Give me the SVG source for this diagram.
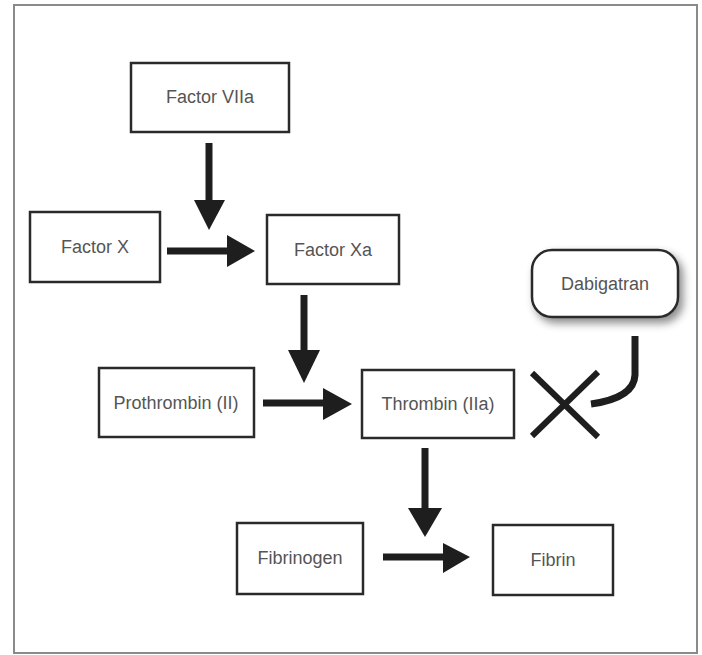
<svg xmlns="http://www.w3.org/2000/svg" width="702" height="655" viewBox="0 0 702 655">
<defs>
<style>
.box{fill:#fff;stroke:#2a2a2a;stroke-width:2.5}
.lbl{font-family:"Liberation Sans",Arial,sans-serif;font-size:18px;fill:#555;text-anchor:middle}
.shaft{stroke:#1e1e1e;stroke-width:7;fill:none}
.head{fill:#1e1e1e}
</style>
<filter id="sh" x="-20%" y="-20%" width="150%" height="160%">
<feDropShadow dx="4" dy="5" stdDeviation="4" flood-color="#000" flood-opacity="0.45"/>
</filter>
</defs>
<rect width="702" height="655" fill="#fff"/>
<rect x="14" y="5" width="683" height="648" fill="none" stroke="#8a8a8a" stroke-width="2"/>

<g id="connectors">
<line class="shaft" x1="209" y1="143" x2="209" y2="202"/>
<polygon class="head" points="194,200 225,200 209,230"/>
<line class="shaft" x1="167" y1="251" x2="230" y2="251"/>
<polygon class="head" points="227,235 255,251 227,267"/>
<line class="shaft" x1="304" y1="295" x2="304" y2="352"/>
<polygon class="head" points="288,350 320,350 304,383"/>
<line class="shaft" x1="263" y1="403" x2="325" y2="403"/>
<polygon class="head" points="323,388 352,404 323,420"/>
<line class="shaft" x1="425" y1="448" x2="425" y2="510"/>
<polygon class="head" points="408,508 442,508 425,537"/>
<line class="shaft" x1="383" y1="557" x2="445" y2="557"/>
<polygon class="head" points="443,543 470,557 443,573"/>
<path d="M635,336 L635,375 Q634,398 591,404" stroke="#1e1e1e" stroke-width="7" fill="none"/>
<line x1="532" y1="373" x2="598" y2="437" stroke="#1e1e1e" stroke-width="6"/>
<line x1="532" y1="436" x2="598" y2="372" stroke="#1e1e1e" stroke-width="6"/>
</g>

<g id="factor-viia"><rect class="box" x="131" y="63" width="158" height="69"/><text class="lbl" x="210" y="103">Factor VIIa</text></g>
<g id="factor-x"><rect class="box" x="30" y="212" width="130" height="70"/><text class="lbl" x="95" y="253">Factor X</text></g>
<g id="factor-xa"><rect class="box" x="267" y="215" width="132" height="69"/><text class="lbl" x="333" y="256">Factor Xa</text></g>
<g id="dabigatran"><rect x="532" y="250" width="146" height="67" rx="20" ry="20" fill="#fff" stroke="#2a2a2a" stroke-width="2.5" filter="url(#sh)"/><text class="lbl" x="605" y="290">Dabigatran</text></g>
<g id="prothrombin"><rect class="box" x="99" y="368" width="155" height="69"/><text class="lbl" x="176" y="409">Prothrombin (II)</text></g>
<g id="thrombin"><rect class="box" x="362" y="370" width="152" height="68"/><text class="lbl" x="438" y="410">Thrombin (IIa)</text></g>
<g id="fibrinogen"><rect class="box" x="237" y="523" width="126" height="71"/><text class="lbl" x="300" y="564">Fibrinogen</text></g>
<g id="fibrin"><rect class="box" x="493" y="525" width="120" height="70"/><text class="lbl" x="553" y="566">Fibrin</text></g>
</svg>
